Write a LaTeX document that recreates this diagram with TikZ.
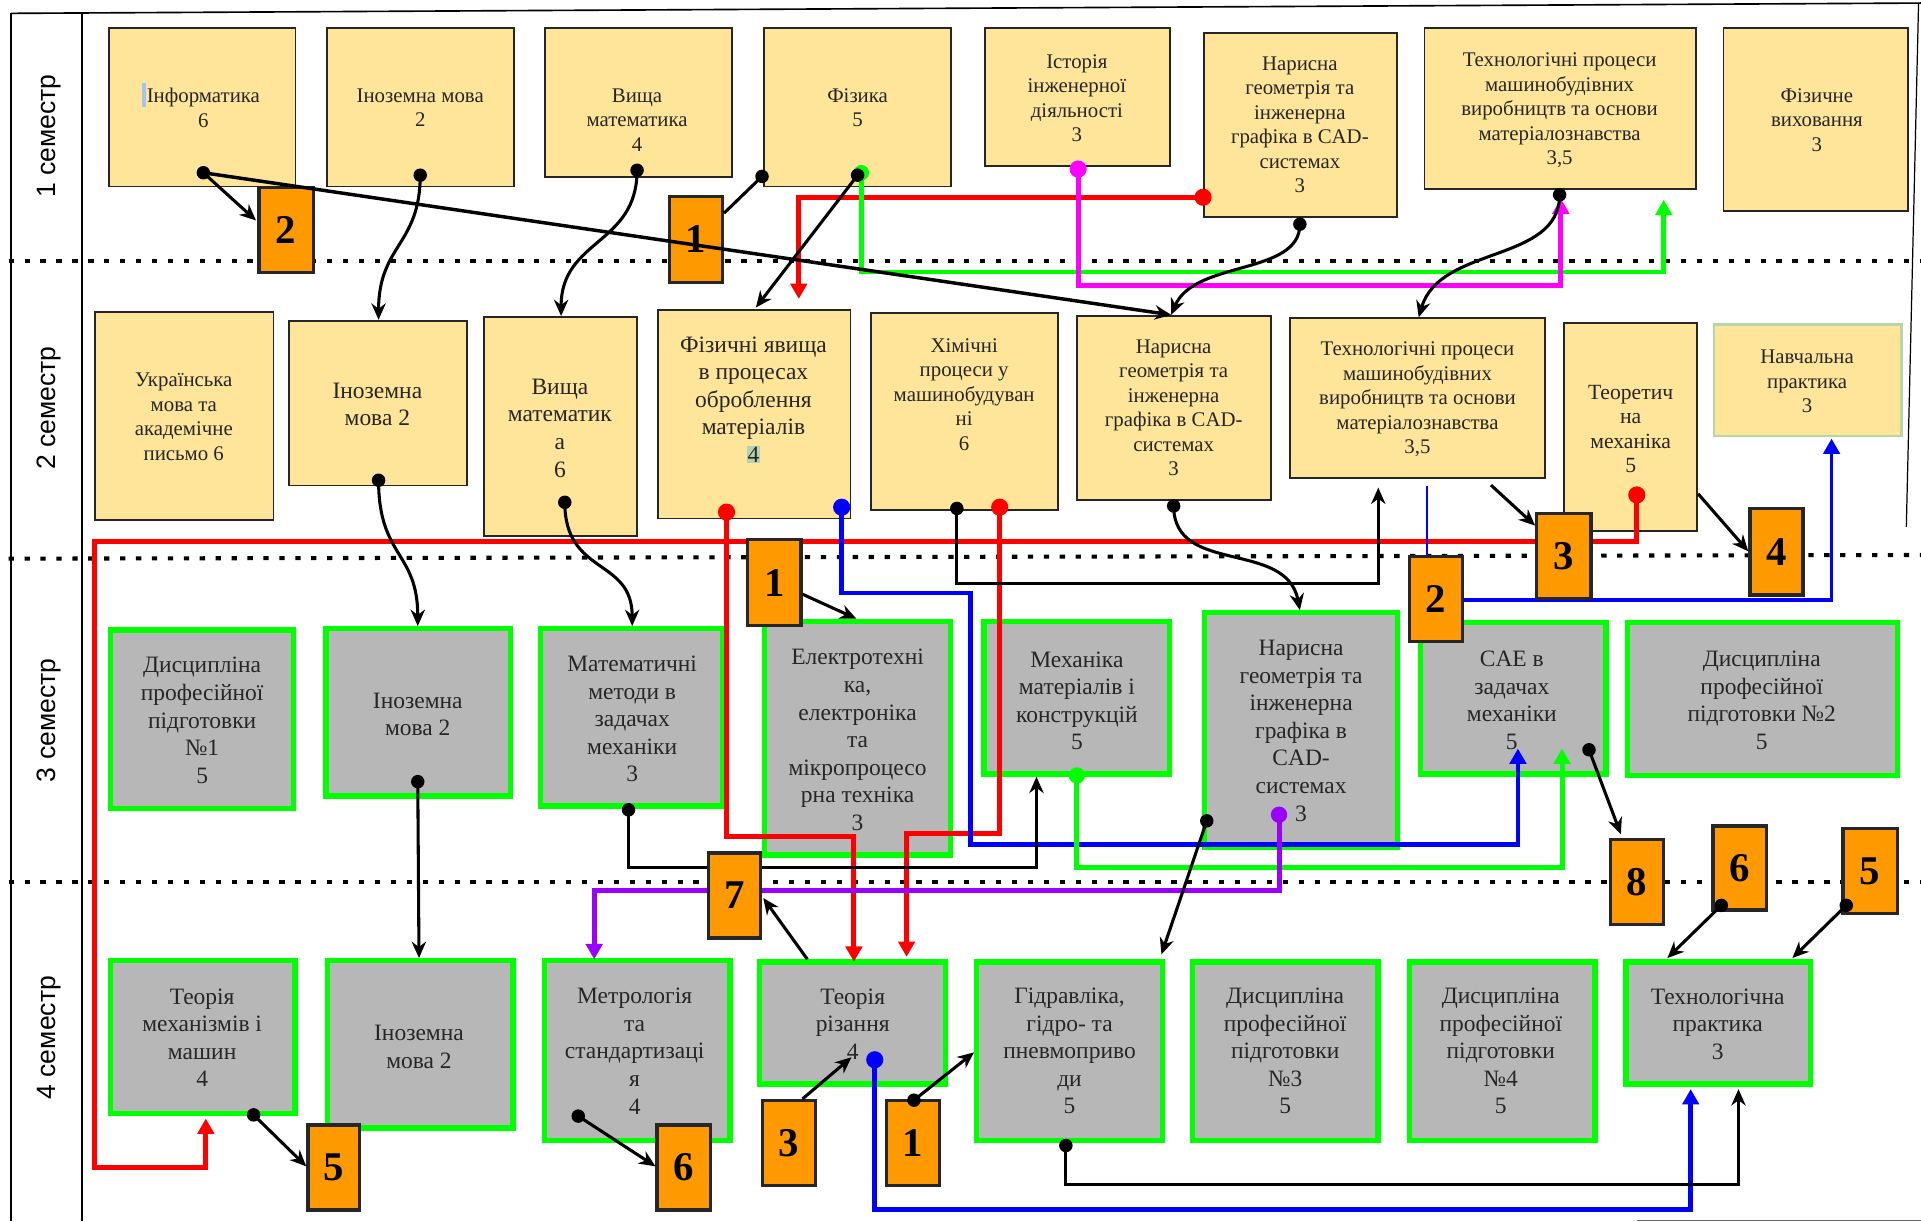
\documentclass[tikz,border=0pt]{standalone}
\usepackage{fontspec}
\setmainfont{Liberation Serif}
\newfontfamily\semfont{Liberation Sans}
\usetikzlibrary{arrows.meta}
\definecolor{ylw}{HTML}{FFE599}
\definecolor{gry}{HTML}{B7B7B7}
\definecolor{grn}{HTML}{00FF00}
\definecolor{orng}{HTML}{FF9900}
\definecolor{prp}{HTML}{9900FF}
\definecolor{mgn}{HTML}{FF00FF}
\definecolor{paleg}{HTML}{B6D7A8}
\definecolor{hlg}{HTML}{B5D3B0}
\definecolor{curs}{HTML}{A4C2F4}
\definecolor{txt}{HTML}{262626}
\newcommand\mkbox[7]{\node[#6, anchor=north west, inner sep=0pt, outer sep=0pt, minimum width={(#4-#2-2*#7)*0.6pt}, minimum height={(#5-#3-2*#7)*0.6pt}] (#1) at ({#2+#7},{#3+#7}) {};}
\newcommand\mknum[6]{\node[nbx, minimum width={(#4-#2-2.6)*0.6pt}, minimum height={(#5-#3-2.6)*0.6pt}] (#1) at ({(#2+#4)/2},{(#3+#5)/2}) {#6};}
\tikzset{
 ybox/.style={draw=txt, line width=0.9pt, fill=ylw},
 gbox/.style={draw=grn, line width=2.6pt, fill=gry},
 nbx/.style={draw=black!85, line width=1.6pt, fill=orng, font=\bfseries\fontsize{20}{20}\selectfont, inner sep=0pt, outer sep=0pt},
 ta/.style={font=\fontsize{10.2}{12}\selectfont, align=center, text=txt, inner sep=0pt},
 tb/.style={font=\fontsize{11.5}{13.5}\selectfont, align=center, text=txt, inner sep=0pt},
 sem/.style={font=\semfont\fontsize{13}{15}\selectfont, rotate=90, inner sep=0pt},
 bl/.style={draw=black, line width=1.5pt, -{Stealth[length=8pt,width=7pt]}},
 bln/.style={draw=black, line width=1.5pt},
 cl/.style={line width=2.4pt, -{Triangle[length=7.5pt,width=8pt]}},
 semline/.style={line width=2pt, dash pattern=on 2.6pt off 5.2pt},
 frm/.style={line width=0.8pt},
}
\begin{document}
\begin{tikzpicture}[x=0.6pt,y=-0.6pt]
\useasboundingbox (0,0) rectangle (1568,997);
% frame
\coordinate (ftl) at (9,10.9); \coordinate (ftr) at (1568,2.5);
\coordinate (fbl) at (9,997); \coordinate (itl) at (66.7,10.2); \coordinate (ibl) at (66.7,997);
\draw[frm] (ftl) -- (ftr);
\draw[frm] (ftl) -- (fbl);
\draw[frm] (itl) -- (ibl);
\coordinate (rt) at (1566,2.5); \coordinate (rb) at (1556,430);
\draw[line width=0.6pt] (rt) -- (rb);
\coordinate (bbl) at (1336,996); \coordinate (bbr) at (1568,996);
\draw[line width=0.6pt, black!60] (bbl) -- (bbr);
% semester separators
\coordinate (l1a) at (7,213); \coordinate (l1b) at (1568,213);
\coordinate (l2a) at (7,456); \coordinate (l2b) at (1568,453);
\coordinate (l3a) at (7,720); \coordinate (l3b) at (1568,720);
\draw[semline] (l1a) -- (l1b);
\draw[semline] (l2a) -- (l2b);
\draw[semline] (l3a) -- (l3b);
\node[sem] (s1) at (40,111) {1 семестр};
\node[sem] (s2) at (40,333) {2 семестр};
\node[sem] (s3) at (40,588) {3 семестр};
\node[sem] (s4) at (40,847) {4 семестр};
% row 1
\mkbox{inf}{88}{22}{242}{153}{ybox}{0.75}
\fill[curs] (116,68) rectangle (119.5,87);
\node[ta] (inf-t) at (166,88) {Інформатика\\6};
\mkbox{ino1}{266}{22}{420}{153}{ybox}{0.75}
\node[ta] (ino1-t) at (343,88) {Іноземна мова\\2};
\mkbox{vm1}{444}{22}{598}{145}{ybox}{0.75}
\node[ta] (vm1-t) at (520,98) {Вища\\математика\\4};
\mkbox{fiz}{623}{22}{777}{153}{ybox}{0.75}
\node[ta] (fiz-t) at (700,88) {Фізика\\5};
\mkbox{ist}{803}{22}{956}{136}{ybox}{0.75}
\node[ta] (ist-t) at (879,80) {Історія\\інженерної\\діяльності\\3};
\mkbox{nar1}{982}{26}{1141}{178}{ybox}{0.75}
\node[ta] (nar1-t) at (1061,102) {Нарисна\\геометрія та\\інженерна\\графіка в CAD-\\системах\\3};
\mkbox{tech1}{1162}{22}{1385}{155}{ybox}{0.75}
\node[ta] (tech1-t) at (1273,90) {Технологічні процеси\\машинобудівних\\виробництв та основи\\матеріалознавства\\3,5};
\mkbox{fv}{1406}{22}{1558}{173}{ybox}{0.75}
\node[ta] (fv-t) at (1483,98) {Фізичне\\виховання\\3};
% row 2
\mkbox{ukr}{77}{254}{224}{425}{ybox}{0.75}
\node[ta] (ukr-t) at (150,340) {Українська\\мова та\\академічне\\письмо 6};
\mkbox{ino2}{235}{261}{382}{397}{ybox}{0.75}
\node[tb] (ino2-t) at (308,330) {Іноземна\\мова 2};
\mkbox{vm2}{394}{258}{521}{438}{ybox}{0.75}
\node[tb] (vm2-t) at (457,349.5) {Вища\\математик\\а\\6};
\mkbox{fyav}{536}{252}{695}{424}{ybox}{0.75}
\node[tb] (fyav-t) at (615,326.5) {Фізичні явища\\в процесах\\оброблення\\матеріалів\\{\setlength{\fboxsep}{0.4pt}\colorbox{hlg}{4}}};
\mkbox{him}{710}{255}{864}{417}{ybox}{0.75}
\node[ta] (him-t) at (787,322) {Хімічні\\процеси у\\машинобудуван\\ні\\6};
\mkbox{nar2}{878}{257}{1038}{409}{ybox}{0.75}
\node[ta] (nar2-t) at (958,333) {Нарисна\\геометрія та\\інженерна\\графіка в CAD-\\системах\\3};
\mkbox{tech2}{1052}{259}{1262}{391}{ybox}{0.75}
\node[ta] (tech2-t) at (1157,326) {Технологічні процеси\\машинобудівних\\виробництв та основи\\матеріалознавства\\3,5};
\mkbox{teor}{1276}{263}{1386}{434}{ybox}{0.75}
\node[ta, font=\fontsize{10.6}{12}\selectfont] (teor-t) at (1331,350) {Теоретич\\на\\механіка\\5};
\mkbox{navch}{1398}{264}{1553}{357}{ybox, draw=paleg, line width=1.2pt}{1}
\node[ta] (navch-t) at (1475,311.5) {Навчальна\\практика\\3};
% row 3
\mkbox{dpp1}{88}{512}{242}{662}{gbox}{2.2}
\node[tb] (dpp1-t) at (165,588) {Дисципліна\\професійної\\підготовки\\№1\\5};
\mkbox{ino3}{264}{511}{419}{652}{gbox}{2.2}
\node[tb] (ino3-t) at (341,583) {Іноземна\\мова 2};
\mkbox{mmz}{439}{511}{592}{660}{gbox}{2.2}
\node[tb] (mmz-t) at (516,587) {Математичні\\методи в\\задачах\\механіки\\3};
\mkbox{elt}{622}{505}{778}{700}{gbox}{2.2}
\node[tb] (elt-t) at (700,604) {Електротехні\\ка,\\електроніка\\та\\мікропроцесо\\рна техніка\\3};
\mkbox{mmk}{801}{505}{957}{634}{gbox}{2.2}
\node[tb] (mmk-t) at (879,572) {Механіка\\матеріалів і\\конструкцій\\5};
\mkbox{nar3}{981}{498}{1143}{694}{gbox}{2.2}
\node[tb] (nar3-t) at (1062,596.5) {Нарисна\\геометрія та\\інженерна\\графіка в\\CAD-\\системах\\3};
\mkbox{cae}{1157}{506}{1313}{634}{gbox}{2.2}
\node[tb] (cae-t) at (1234,571.5) {CAE в\\задачах\\механіки\\5};
\mkbox{dpp2}{1326}{506}{1551}{635}{gbox}{2.2}
\node[tb] (dpp2-t) at (1438,571.5) {Дисципліна\\професійної\\підготовки №2\\5};
% row 4
\mkbox{tmm}{88}{782}{243}{911}{gbox}{2.2}
\node[tb] (tmm-t) at (165,847) {Теорія\\механізмів і\\машин\\4};
\mkbox{ino4}{265}{782}{421}{923}{gbox}{2.2}
\node[tb] (ino4-t) at (342,854.5) {Іноземна\\мова 2};
\mkbox{metr}{442}{782}{598}{933}{gbox}{2.2}
\node[tb] (metr-t) at (518,858) {Метрологія\\та\\стандартизаці\\я\\4};
\mkbox{trz}{618}{783}{774}{887}{gbox}{2.2}
\node[tb] (trz-t) at (696,836) {Теорія\\різання\\4};
\mkbox{gidr}{795}{783}{951}{933}{gbox}{2.2}
\node[tb] (gidr-t) at (873,858) {Гідравліка,\\гідро- та\\пневмоприво\\ди\\5};
\mkbox{dpp3}{971}{783}{1127}{933}{gbox}{2.2}
\node[tb] (dpp3-t) at (1049,858) {Дисципліна\\професійної\\підготовки\\№3\\5};
\mkbox{dpp4}{1148}{783}{1304}{933}{gbox}{2.2}
\node[tb] (dpp4-t) at (1225,858) {Дисципліна\\професійної\\підготовки\\№4\\5};
\mkbox{tpr}{1325}{783}{1480}{887}{gbox}{2.2}
\node[tb] (tpr-t) at (1402,836) {Технологічна\\практика\\3};
% connector points
\coordinate (dInf) at (166,141); \coordinate (aN2a) at (209,180); \coordinate (aNar2) at (956,257);
\coordinate (dIno1) at (343,143); \coordinate (aIno2) at (309,261);
\coordinate (dVm1) at (520,139); \coordinate (aVm2) at (458,258);
\coordinate (dFizL) at (622,144); \coordinate (eN1a) at (591,174);
\coordinate (dFiz) at (700,143); \coordinate (aFyav) at (617,251);
\coordinate (dNar1) at (1061,183);
\coordinate (dTech1) at (1273,159); \coordinate (aTech2) at (1158,259);
\coordinate (dIno2) at (309,392); \coordinate (aIno3) at (341,511);
\coordinate (dVm2) at (461,410); \coordinate (aMmz) at (516,511);
\coordinate (dIno3) at (341,638); \coordinate (aIno4) at (342,782);
\coordinate (dMmz) at (513,661); \coordinate (aMmk) at (846,634);
\coordinate (dHim) at (781,415); \coordinate (aTech2b) at (1125,398);
\coordinate (dNar2) at (958,413); \coordinate (aNar3) at (1061,498);
\coordinate (sTech2) at (1217,396); \coordinate (aN3a) at (1253,429);
\coordinate (sTeor) at (1386,403); \coordinate (aN4) at (1427,450);
\coordinate (sN1b) at (655,485); \coordinate (aElt) at (699,505);
\coordinate (dCae) at (1297,612); \coordinate (aN8) at (1323,681);
\coordinate (dNar3) at (985,670); \coordinate (aGidr) at (948,779);
\coordinate (sTrz) at (659,783); \coordinate (aN7) at (623,733);
\coordinate (dTmm) at (207,910); \coordinate (aN5b) at (250,952);
\coordinate (dMetr) at (472,911); \coordinate (aN6b) at (535,952);
\coordinate (sN3b) at (655,897); \coordinate (aTrz) at (695,863);
\coordinate (dN1c) at (746,898); \coordinate (aGidr2) at (795,859);
\coordinate (dGidr) at (870,935); \coordinate (aTpr) at (1419,889);
\coordinate (dN6a) at (1405,739); \coordinate (aTpr1) at (1361,782);
\coordinate (dN5a) at (1507,739); \coordinate (aTpr2) at (1463,782);
\coordinate (dR1) at (982,161); \coordinate (aR1) at (652,244);
\coordinate (dG1) at (703,141); \coordinate (aG1) at (1358,163);
\coordinate (dM) at (880,138); \coordinate (aM) at (1274,162);
\coordinate (dR2) at (1336,404); \coordinate (aR2) at (168,913);
\coordinate (dR3) at (593,418); \coordinate (aR3) at (697,785);
\coordinate (dR4) at (816,414); \coordinate (aR4) at (740,781);
\coordinate (dB1) at (687,414); \coordinate (aB1) at (1239,611);
\coordinate (sB2) at (1165,397); \coordinate (eB2) at (1165,453);
\coordinate (sB3) at (1195,490); \coordinate (aB3) at (1495,358);
\coordinate (dG2) at (879,633); \coordinate (aG2) at (1275,611);
\coordinate (dP) at (1044,665); \coordinate (aP) at (485,783);
\coordinate (dB4) at (714,865); \coordinate (aB4) at (1380,889);
% coloured connectors
\draw[cl, red] (dR1) -- (652,161) -- (aR1);
\draw[cl, grn] (dG1) -- (703,222) -- (1358,222) -- (aG1);
\draw[cl, mgn] (dM) -- (880,233) -- (1274,233) -- (aM);
\draw[cl, red] (dR2) -- (1336,442) -- (77,442) -- (77,953) -- (168,953) -- (aR2);
\draw[cl, red] (dR3) -- (593,683) -- (697,683) -- (aR3);
\draw[cl, red] (dR4) -- (816,680) -- (740,680) -- (aR4);
\draw[cl, blue] (dB1) -- (687,484) -- (792,484) -- (792,689) -- (1239,689) -- (aB1);
\draw[blue, line width=1pt] (sB2) -- (eB2);
\draw[cl, blue, line width=1.8pt] (sB3) -- (1495,490) -- (aB3);
\draw[cl, grn] (dG2) -- (879,708) -- (1275,708) -- (aG2);
\draw[cl, prp] (dP) -- (1044,727) -- (485,727) -- (aP);
\draw[cl, blue] (dB4) -- (714,987) -- (1380,987) -- (aB4);
% black connectors under number boxes
\draw[bl] (dIno1) .. controls (343,200) and (309,200) .. (aIno2);
\draw[bl] (dVm1) .. controls (520,200) and (458,195) .. (aVm2);
\draw[bl] (dNar1) .. controls (1061,225) and (975,212) .. (aNar2);
\draw[bl] (dTech1) .. controls (1273,215) and (1175,200) .. (aTech2);
\draw[bl] (dIno2) .. controls (309,455) and (341,450) .. (aIno3);
\draw[bl] (dVm2) .. controls (461,470) and (516,455) .. (aMmz);
\draw[bl] (dIno3) -- (aIno4);
\draw[bl] (dMmz) -- (513,708) -- (846,708) -- (aMmk);
\draw[bl] (dHim) -- (781,476) -- (1125,476) -- (aTech2b);
\draw[bl] (dNar2) .. controls (958,470) and (1050,440) .. (aNar3);
\draw[bl] (dFiz) -- (aFyav);
\draw[bl] (dNar3) -- (aGidr);
\draw[bl] (dGidr) -- (870,967) -- (1419,967) -- (aTpr);
% number boxes
\mknum{n2a}{210}{152}{257}{224}{2}
\mknum{n1a}{545}{159}{591}{232}{1}
\mknum{n1b}{609}{439}{655}{512}{1}
\mknum{n2b}{1149}{453}{1195}{525}{2}
\mknum{n3a}{1253}{418}{1300}{490}{3}
\mknum{n4}{1427}{414}{1473}{487}{4}
\mknum{n7}{577}{695}{622}{767}{7}
\mknum{n8}{1313}{684}{1359}{756}{8}
\mknum{n6a}{1397}{673}{1443}{744}{6}
\mknum{n5a}{1503}{675}{1550}{747}{5}
\mknum{n5b}{250}{917}{295}{989}{5}
\mknum{n6b}{535}{917}{581}{989}{6}
\mknum{n3b}{621}{897}{667}{969}{3}
\mknum{n1c}{722}{897}{768}{969}{1}
% black connectors over number boxes
\draw[bl, line width=1.7pt] (dInf) -- (aNar2);
\draw[bl] (dInf) -- (aN2a);
\draw[bln] (dFizL) -- (eN1a);
\draw[bl] (sTech2) -- (aN3a);
\draw[bl] (sTeor) -- (aN4);
\draw[bl] (sN1b) -- (aElt);
\draw[bl] (dCae) -- (aN8);
\draw[bl] (sTrz) -- (aN7);
\draw[bl] (dTmm) -- (aN5b);
\draw[bl] (dMetr) -- (aN6b);
\draw[bl] (sN3b) -- (aTrz);
\draw[bl] (dN1c) -- (aGidr2);
\draw[bl] (dN6a) -- (aTpr1);
\draw[bl] (dN5a) -- (aTpr2);
% dots
\fill[red] (dR1) circle (4.2pt);
\fill[grn] (dG1) circle (3.8pt);
\fill[mgn] (dM) circle (4.2pt);
\fill[red] (dR2) circle (4.2pt);
\fill[red] (dR3) circle (4.2pt);
\fill[red] (dR4) circle (4.2pt);
\fill[blue] (dB1) circle (4.2pt);
\fill[grn] (dG2) circle (4pt);
\fill[prp] (dP) circle (4pt);
\fill[blue] (dB4) circle (4.2pt);
\foreach \p in {dInf,dIno1,dVm1,dFizL,dFiz,dNar1,dTech1,dIno2,dVm2,dIno3,dMmz,dHim,dNar2,dCae,dNar3,dTmm,dMetr,dN1c,dGidr,dN6a,dN5a}
  \fill[black] (\p) circle (3.3pt);
\end{tikzpicture}
\end{document}
